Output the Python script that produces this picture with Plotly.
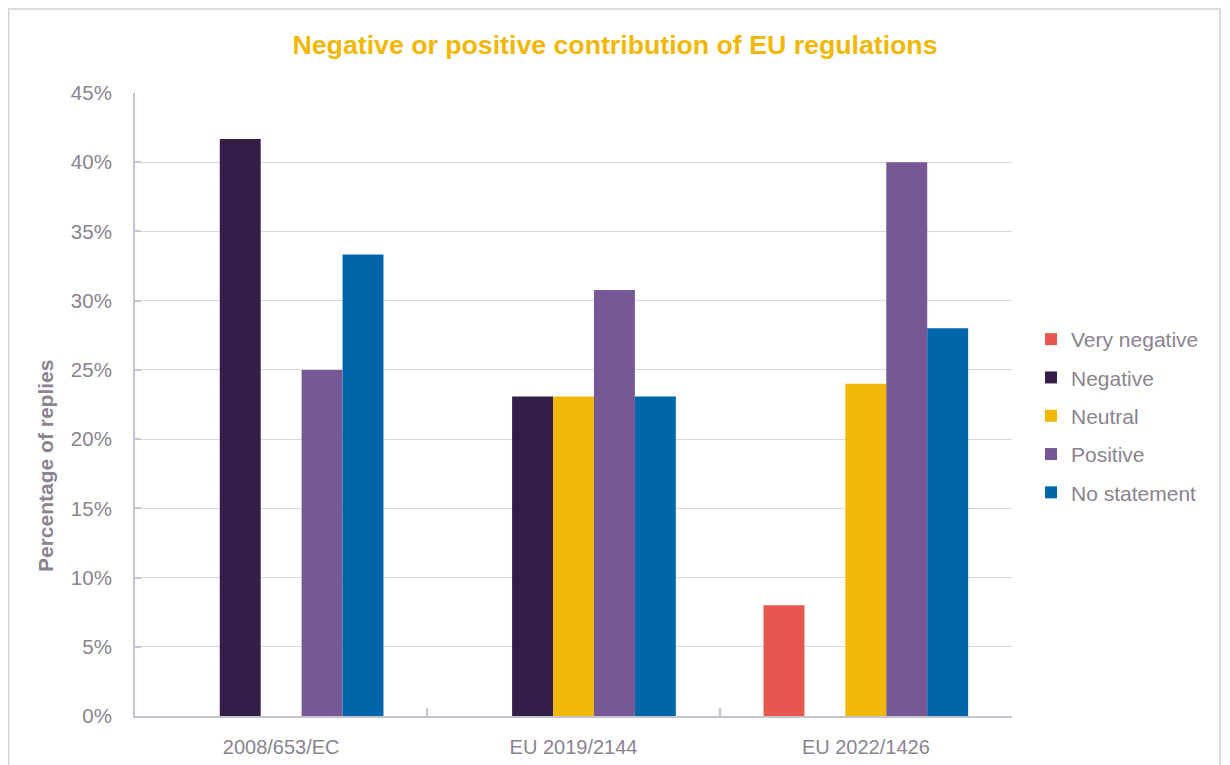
import plotly.graph_objects as go

categories = ["2008/653/EC", "EU 2019/2144", "EU 2022/1426"]
series_names = ["Very negative", "Negative", "Neutral", "Positive", "No statement"]
very_negative = [0, 0, 8.0]
negative = [41.67, 23.08, 0]
neutral = [0, 23.08, 24.0]
positive = [25.0, 30.77, 40.0]
no_statement = [33.33, 23.08, 28.0]
colors = ["#e8574f", "#321e47", "#f1b807", "#775794", "#0066aa"]
y_ticks = [0, 5, 10, 15, 20, 25, 30, 35, 40, 45]
y_labels = [f"{v}%" for v in y_ticks]

values = [very_negative, negative, neutral, positive, no_statement]

fig = go.Figure()
for name, vals, col in zip(series_names, values, colors):
    fig.add_trace(go.Bar(name=name, x=categories, y=vals, marker=dict(color=col, line=dict(width=0)),
                         legendgroup=name))

W, H = 1230, 765
L, R, T, B = 127, 226, 85, 57
pw, ph = W - L - R, H - T - B
FONT = "Liberation Sans, Arial, sans-serif"
TXT = "#8a8390"

fig.update_layout(
    width=W, height=H,
    margin=dict(l=L, r=R, t=T, b=B),
    paper_bgcolor="white", plot_bgcolor="white",
    font=dict(family=FONT, color=TXT, size=21),
    barmode="group", bargap=0.3, bargroupgap=0,
    title=dict(text="<b>Negative or positive contribution of EU regulations</b>",
               x=(607 - L) / pw, xref="paper", xanchor="center",
               y=1 - 37 / H, yanchor="middle",
               font=dict(size=26.7, color="#f2b705", family=FONT)),
    legend=dict(x=(1023 - L) / pw, y=(H - B - 408) / ph, xanchor="left", yanchor="middle",
                font=dict(size=21, color=TXT), tracegroupgap=8,
                itemwidth=30, bgcolor="rgba(0,0,0,0)"),
    showlegend=True,
    yaxis=dict(range=[0, 45], tickvals=y_ticks, ticktext=y_labels,
               showgrid=True, gridcolor="#d9d8e2", gridwidth=1,
               showline=True, linecolor="#c6c4d0", linewidth=2,
               ticks="inside", ticklen=6, tickcolor="#c6c4d0", tickwidth=2,
               ticklabelstandoff=17, zeroline=False, tickfont=dict(size=20.5)),
    xaxis=dict(showline=True, linecolor="#c6c4d0", linewidth=2,
               ticks="inside", tickson="boundaries", ticklen=8, tickcolor="#c6c4d0", tickwidth=2,
               showgrid=False, tickfont=dict(size=20), ticklabelstandoff=12),
)

fig.add_annotation(text="<b>Percentage of replies</b>", textangle=-90,
                   xref="paper", yref="paper",
                   x=(37 - L) / pw, y=(H - B - 458) / ph,
                   xanchor="center", yanchor="middle", showarrow=False,
                   font=dict(size=21, color=TXT, family=FONT))

fig.add_shape(type="rect", xref="paper", yref="paper",
              x0=(0.5 - L) / pw, x1=(1212 - L) / pw,
              y0=-(800 - (H - B)) / ph, y1=1 + (T - 1) / ph,
              line=dict(color="#d0cfd8", width=1.5), fillcolor="rgba(0,0,0,0)", layer="below")

fig.write_html("out.html")
